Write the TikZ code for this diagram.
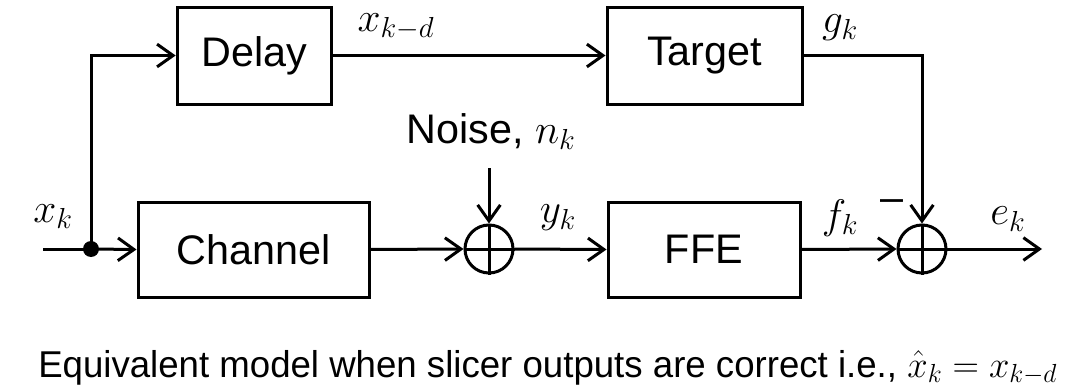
\documentclass[tikz,border=0pt]{standalone}
\usepackage{fix-cm}
\usepackage{fontspec}
\setmainfont{Liberation Sans}
\usepackage{graphicx}
\usetikzlibrary{arrows.meta}
\begin{document}
\begin{tikzpicture}[x=0.75pt,y=-0.75pt,
  blk/.style={draw,line width=2.25pt,inner sep=0pt,font=\fontsize{31}{36}\selectfont},
  sumnode/.style={draw,circle,line width=2.25pt,minimum size=36pt,inner sep=0pt},
  lbl/.style={font=\fontsize{31}{36}\selectfont,inner sep=0pt},
  wire/.style={line width=2.25pt},
  arr/.style={line width=2.25pt,-{Straight Barb[length=12pt,width=17pt]}}]
\useasboundingbox (0,0) rectangle (1076,389);
% blocks
\node[blk,minimum width=116pt,minimum height=72.75pt] (delay) at (254.5,55.5) {Delay};
\node[blk,minimum width=146.25pt,minimum height=72.75pt] (target) at (704.5,55.5) {Target};
\node[blk,minimum width=173.25pt,minimum height=71.25pt] (channel) at (253.5,249.5) {Channel};
\node[blk,minimum width=144pt,minimum height=71.25pt] (ffe) at (704,249.5) {FFE};
% summers
\node[sumnode] (s1) at (489,249) {};
\node[sumnode] (s2) at (922,249) {};
\draw[wire] (s1.north) -- (s1.south) (s1.west) -- (s1.east);
\draw[wire] (s2.north) -- (s2.south) (s2.west) -- (s2.east);
% junction
\node[circle,fill,inner sep=0pt,minimum size=12pt] (j) at (91,249) {};
\coordinate (in) at (43,249);
\coordinate (noisetop) at (489,168);
\coordinate (out) at (1042,249);
% connectors
\draw[wire] (in) -- (j.center);
\draw[arr] (j.center) -- (channel.west);
\draw[arr] (j.center) |- (delay.west);
\draw[arr] (delay.east) -- (target.west);
\draw[arr] (channel.east) -- (s1.west);
\draw[arr] (noisetop) -- (s1.north);
\draw[arr] (s1.east) -- (ffe.west);
\draw[arr] (ffe.east) -- (s2.west);
\draw[arr] (target.east) -| (s2.north);
\draw[arr] (s2.east) -- (out);
% labels
\node[lbl] (lxk) at (53,217) {$x_k$};
\node[lbl] (lxkd) at (396,27) {$x_{k-d}$};
\node[lbl] (lgk) at (840,28) {$g_k$};
\node[lbl,anchor=base] (lnoise) at (491,143) {Noise, $n_k$};
\node[lbl] (lyk) at (558,218) {$y_k$};
\node[lbl] (lfk) at (840,218) {$f_k$};
\node[lbl] (lek) at (1008,219) {$e_k$};
\node[lbl] (lminus) at (892,206) {–};
\node[anchor=base west,inner sep=0pt,font=\fontsize{28}{33}\selectfont] (cap) at (38,377)
  {\resizebox{764pt}{\height}{Equivalent model when slicer outputs are correct i.e., $\hat{x}_k = x_{k-d}$}};
\end{tikzpicture}
\end{document}
